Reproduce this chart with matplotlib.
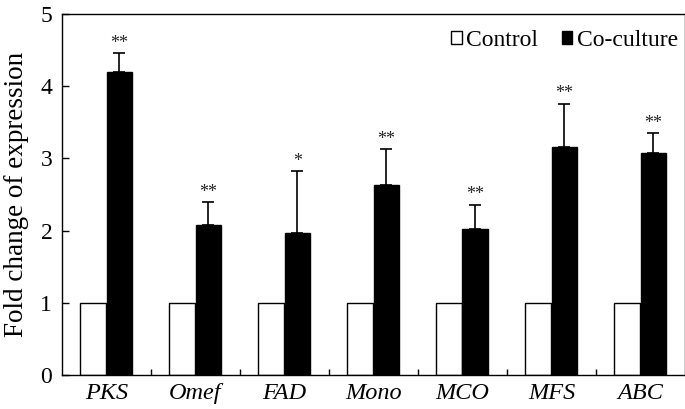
import matplotlib
matplotlib.use("Agg")
import matplotlib.pyplot as plt
import numpy as np
from matplotlib.ticker import FixedLocator

plt.rcParams['font.family'] = ['Liberation Serif', 'DejaVu Serif']

genes = ["PKS", "Omef", "FAD", "Mono", "MCO", "MFS", "ABC"]
control = [1, 1, 1, 1, 1, 1, 1]
coculture = [4.20, 2.08, 1.97, 2.63, 2.02, 3.16, 3.08]
coculture_err = [0.26, 0.31, 0.85, 0.50, 0.34, 0.60, 0.27]
signif = ["**", "**", "*", "**", "**", "**", "**"]

fig = plt.figure(figsize=(6.85, 4.09), dpi=100)
ax = fig.add_axes([62/685, 1-375/409, 623/685, (375-14)/409])

x = np.arange(len(genes))
w = 0.29
ax.bar(x - w/2 - 0.005, control, width=w, color="white", edgecolor="black", linewidth=1.0, label="Control")
ax.bar(x + w/2, coculture, width=w, color="black", edgecolor="black", linewidth=1.0, label="Co-culture")
ax.errorbar(x + w/2, coculture, yerr=[np.zeros(len(x)), coculture_err], fmt="none",
            ecolor="black", elinewidth=1.2, capsize=4, capthick=1.2)
for xi, v, e, s in zip(x, coculture, coculture_err, signif):
    ax.text(xi + w/2, v + e + 0.02, s, ha="center", va="bottom", fontsize=13, color="#222222")

ax.set_xlim(-0.5, len(genes) - 0.5)
ax.set_ylim(0, 5)
ax.set_yticks([0, 1, 2, 3, 4, 5])
ax.set_xticks(x)
ax.set_xticklabels(genes, fontstyle="italic", fontsize=17.5)
ax.xaxis.set_minor_locator(FixedLocator(np.arange(0.5, len(genes) - 0.5, 1)))
ax.tick_params(axis="x", which="major", length=0, pad=6)
ax.tick_params(axis="x", which="minor", direction="in", length=4, width=1)
ax.tick_params(axis="y", direction="in", length=5, width=1, labelsize=17, pad=7)
ax.set_ylabel("Fold change of expression", fontsize=19.5, labelpad=8)
for sp in ax.spines.values():
    sp.set_linewidth(1.0)

ax.legend(loc="upper right", ncol=2, frameon=False, fontsize=17, handlelength=0.45,
          handleheight=0.5, handletextpad=0.2, columnspacing=1.0,
          bbox_to_anchor=(1.012, 0.995), borderaxespad=0.2)

fig.savefig("out.png", dpi=100)
